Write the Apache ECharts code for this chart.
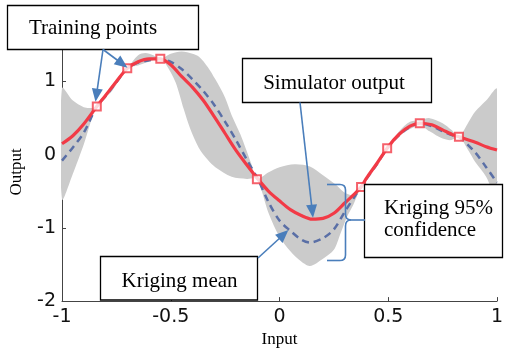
<!DOCTYPE html>
<html><head><meta charset="utf-8">
<script src="https://cdn.jsdelivr.net/npm/echarts@6/dist/echarts.min.js"></script>
<style>html,body{margin:0;padding:0;background:#fff}#c{width:515px;height:353px}</style>
</head><body><div id="c"></div>
<script>
// ---- data ----
const xTicks = [-1, -0.5, 0, 0.5, 1];
const yTicks = [-2, -1, 0, 1];

// Simulator output (red solid)
const simX = [-1, -0.95, -0.9, -0.84, -0.8, -0.75, -0.7, -0.65, -0.6, -0.55, -0.5, -0.45, -0.4, -0.35, -0.3, -0.25, -0.2, -0.15, -0.1, -0.05, 0, 0.05, 0.1, 0.15, 0.2, 0.25, 0.3, 0.35, 0.375, 0.4, 0.45, 0.5, 0.55, 0.6, 0.645, 0.7, 0.75, 0.8, 0.825, 0.9, 0.95, 1];
const simY = [0.15, 0.26, 0.42, 0.66, 0.81, 1.0, 1.18, 1.27, 1.31, 1.31, 1.23, 1.07, 0.92, 0.74, 0.52, 0.29, 0.06, -0.14, -0.33, -0.5, -0.63, -0.75, -0.83, -0.88, -0.87, -0.8, -0.66, -0.52, -0.44, -0.32, -0.11, 0.11, 0.28, 0.39, 0.43, 0.41, 0.34, 0.27, 0.245, 0.17, 0.11, 0.065];

// Kriging mean (blue dashed)
const meanX = [-1, -0.95, -0.9, -0.84, -0.8, -0.75, -0.7, -0.65, -0.6, -0.55, -0.5, -0.45, -0.4, -0.35, -0.3, -0.25, -0.2, -0.15, -0.1, -0.05, 0, 0.05, 0.1, 0.14, 0.2, 0.25, 0.3, 0.35, 0.375, 0.4, 0.45, 0.5, 0.55, 0.6, 0.645, 0.7, 0.75, 0.8, 0.825, 0.9, 0.95, 1];
const meanY = [-0.08, 0.1, 0.3, 0.66, 0.8, 0.99, 1.18, 1.26, 1.29, 1.31, 1.27, 1.17, 1.03, 0.87, 0.68, 0.45, 0.2, -0.07, -0.33, -0.65, -0.9, -1.04, -1.16, -1.2, -1.14, -1.02, -0.78, -0.55, -0.44, -0.33, -0.12, 0.11, 0.27, 0.38, 0.43, 0.39, 0.32, 0.26, 0.245, 0.03, -0.17, -0.38];

// Kriging 95% confidence band (grey)
const upperX = [-1, -0.95, -0.9, -0.87, -0.84, -0.77, -0.7, -0.65, -0.617, -0.58, -0.548, -0.5, -0.45, -0.4, -0.37, -0.33, -0.295, -0.25, -0.22, -0.18, -0.157, -0.13, -0.104, -0.05, 0, 0.07, 0.14, 0.2, 0.26, 0.3, 0.34, 0.375, 0.43, 0.495, 0.55, 0.6, 0.645, 0.69, 0.75, 0.79, 0.825, 0.87, 0.9, 0.95, 1];
const upperY = [0.91, 0.74, 0.65, 0.64, 0.66, 0.95, 1.18, 1.36, 1.39, 1.36, 1.31, 1.38, 1.41, 1.38, 1.34, 1.2, 1.03, 0.78, 0.54, 0.28, 0.1, -0.12, -0.33, -0.24, -0.17, -0.13, -0.16, -0.28, -0.41, -0.52, -0.55, -0.44, -0.17, 0.09, 0.32, 0.45, 0.47, 0.5, 0.43, 0.34, 0.245, 0.45, 0.59, 0.74, 0.9];
const lowerX = [-1, -0.95, -0.9, -0.84, -0.77, -0.7, -0.65, -0.6, -0.548, -0.525, -0.478, -0.44, -0.41, -0.372, -0.33, -0.295, -0.22, -0.15, -0.104, -0.05, 0, 0.05, 0.1, 0.14, 0.2, 0.25, 0.28, 0.31, 0.34, 0.375, 0.43, 0.495, 0.55, 0.6, 0.645, 0.69, 0.75, 0.79, 0.825, 0.87, 0.9, 0.95, 1];
const lowerY = [-0.61, -0.26, 0.14, 0.66, 0.87, 1.18, 1.22, 1.27, 1.31, 1.25, 0.99, 0.62, 0.35, 0.1, -0.07, -0.17, -0.3, -0.33, -0.336, -0.8, -1.12, -1.32, -1.46, -1.52, -1.42, -1.3, -1.08, -0.85, -0.68, -0.44, -0.2, 0.08, 0.25, 0.35, 0.4, 0.32, 0.22, 0.2, 0.245, 0.05, -0.1, -0.3, -0.6];

// Training points (red hollow squares)
const trainX = [-0.84, -0.70, -0.548, -0.104, 0.375, 0.495, 0.645, 0.825];
const trainY = [0.66, 1.18, 1.31, -0.336, -0.44, 0.09, 0.43, 0.245];

// ---- chart ----
const RED = '#f23a46', DASH = '#5a6fa6', GREY = '#cbcbcb', BLUE = '#4a7ebb';
const pairs = (xs, ys) => xs.map((x, i) => [x, ys[i]]);
const chart = echarts.init(document.getElementById('c'));

chart.setOption({
  animation: false,
  grid: { left: 61.5, right: 18, top: 48.6, bottom: 45.5 },
  xAxis: {
    type: 'value', min: xTicks[0], max: xTicks[xTicks.length - 1], interval: 0.5,
    name: 'Input', nameLocation: 'middle', nameGap: 26,
    nameTextStyle: { fontFamily: 'Liberation Serif', fontSize: 17, color: '#000' },
    axisLine: { onZero: false, lineStyle: { color: '#444', width: 1 } },
    axisTick: { inside: true, length: 4, lineStyle: { color: '#444' } },
    axisLabel: { fontFamily: 'DejaVu Sans', fontSize: 19, color: '#111', margin: 6,
      formatter: v => (xTicks.indexOf(v) >= 0 ? String(v) : '') },
    splitLine: { show: false }
  },
  yAxis: {
    type: 'value', min: yTicks[0], max: 1.45, interval: 1,
    name: 'Output', nameLocation: 'middle', nameGap: 37,
    nameTextStyle: { fontFamily: 'Liberation Serif', fontSize: 17, color: '#000', padding: [0, 0, 0, 6] },
    axisLine: { onZero: false, lineStyle: { color: '#444', width: 1 } },
    axisTick: { inside: true, length: 4, lineStyle: { color: '#444' } },
    axisLabel: { fontFamily: 'DejaVu Sans', fontSize: 19, color: '#111', margin: 6, showMaxLabel: false,
      formatter: v => (yTicks.indexOf(v) >= 0 ? String(v) : '') },
    splitLine: { show: false }
  },
  series: [
    {
      type: 'custom', coordinateSystem: 'cartesian2d', data: [[0, 0]], z: 1, silent: true, clip: true,
      renderItem: (params, api) => {
        const pts = [];
        for (let i = 0; i < upperX.length; i++) pts.push(api.coord([upperX[i], upperY[i]]));
        for (let i = lowerX.length - 1; i >= 0; i--) pts.push(api.coord([lowerX[i], lowerY[i]]));
        return { type: 'polygon', shape: { points: pts, smooth: 0.3 }, style: { fill: GREY, stroke: null } };
      }
    },
    { type: 'line', data: pairs(meanX, meanY), smooth: 0.3, symbol: 'none', z: 3,
      lineStyle: { color: DASH, width: 2.5, type: [7, 5] } },
    { type: 'line', data: pairs(simX, simY), smooth: 0.3, symbol: 'none', z: 4,
      lineStyle: { color: RED, width: 3.2 } },
    { type: 'scatter', data: pairs(trainX, trainY), symbol: 'rect', symbolSize: 8, z: 5,
      itemStyle: { color: '#fff', borderColor: RED, borderWidth: 2 } }
  ]
});

// ---- annotations ----
function arrow(x1, y1, tip) {
  const p = chart.convertToPixel({ gridIndex: 0 }, tip);
  const x2 = p[0], y2 = p[1];
  const dx = x2 - x1, dy = y2 - y1, L = Math.hypot(dx, dy), ux = dx / L, uy = dy / L;
  const hl = 13, hw = 5.5;
  const bx = x2 - ux * hl, by = y2 - uy * hl;
  return [
    { type: 'line', z: 110, shape: { x1: x1, y1: y1, x2: bx + ux, y2: by + uy }, style: { stroke: BLUE, lineWidth: 1.6 } },
    { type: 'polygon', z: 110, shape: { points: [[x2, y2], [bx - uy * hw, by + ux * hw], [bx + uy * hw, by - ux * hw]] }, style: { fill: BLUE } }
  ];
}
function box(x, y, w, h, text, tx, ty, align, lh) {
  return [
    { type: 'rect', z: 100, shape: { x: x, y: y, width: w, height: h }, style: { fill: '#fff', stroke: '#000', lineWidth: 1.3 } },
    { type: 'text', z: 101, style: { text: text, x: tx, y: ty, fontFamily: 'Liberation Serif', fontSize: 21,
      lineHeight: lh || 24, fill: '#000', align: align || 'center', verticalAlign: 'middle' } }
  ];
}
function seg(x1, y1, x2, y2) {
  return { type: 'line', z: 110, shape: { x1: x1, y1: y1, x2: x2, y2: y2 }, style: { stroke: BLUE, lineWidth: 1.6 } };
}
function curve(x1, y1, cx, cy, x2, y2) {
  return { type: 'bezierCurve', z: 110, shape: { x1: x1, y1: y1, cpx1: cx, cpy1: cy, x2: x2, y2: y2 }, style: { stroke: BLUE, lineWidth: 1.6, fill: null } };
}
const brace = [
  seg(327, 184.5, 340, 184.5), curve(340, 184.5, 345.5, 184.5, 345.5, 190),
  seg(345.5, 190, 345.5, 214), curve(345.5, 214, 345.5, 220, 351, 220),
  seg(351, 220, 365, 220), curve(351, 220, 345.5, 220, 345.5, 226),
  seg(345.5, 226, 345.5, 255), curve(345.5, 255, 345.5, 260.5, 340, 260.5),
  seg(340, 260.5, 327, 260.5)
];
const g = [].concat(
  box(7.5, 5.5, 191, 44, 'Training points', 93, 28),
  box(242.5, 58.5, 189, 44, 'Simulator output', 334, 83),
  box(100.5, 256.5, 157, 43.5, 'Kriging mean', 179.5, 281),
  box(364.5, 184.5, 138, 73, 'Kriging 95%\nconfidence', 384, 219, 'left', 22),
  arrow(103, 49.5, [-0.846, 0.725]),
  arrow(103, 49.5, [-0.699, 1.19]),
  arrow(300, 102.5, [0.154, -0.86]),
  arrow(258, 258, [0.041, -1.03]),
  brace
);
chart.setOption({ graphic: g });
</script>
</body></html>
